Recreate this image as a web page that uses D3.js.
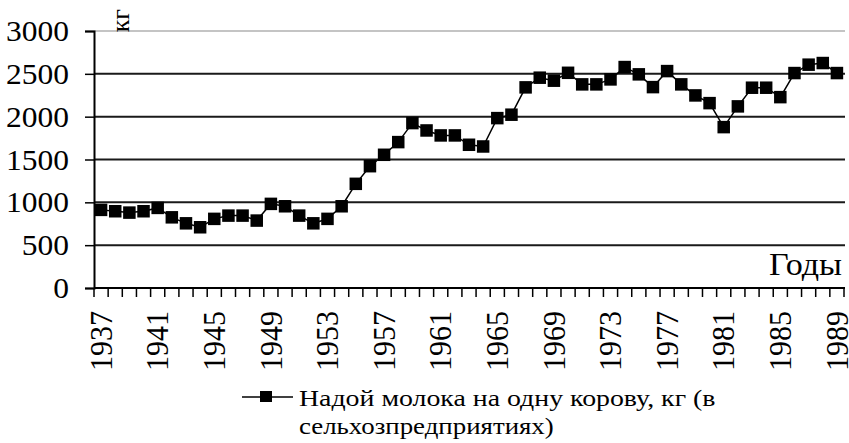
<!DOCTYPE html>
<html>
<head>
<meta charset="utf-8">
<script src="https://cdn.jsdelivr.net/npm/d3@7"></script>
<style>
  html, body { margin: 0; padding: 0; background: #fff; }
  svg { display: block; }
</style>
</head>
<body>
<script>
const years = [1937,1938,1939,1940,1941,1942,1943,1944,1945,1946,1947,1948,1949,1950,
  1951,1952,1953,1954,1955,1956,1957,1958,1959,1960,1961,1962,1963,1964,1965,1966,
  1967,1968,1969,1970,1971,1972,1973,1974,1975,1976,1977,1978,1979,1980,1981,1982,
  1983,1984,1985,1986,1987,1988,1989];
const milkYield = [912,896,880,896,935,825,755,709,807,845,845,787,982,954,
  845,755,807,954,1216,1422,1555,1703,1925,1839,1781,1781,1672,1652,1983,2023,
  2342,2455,2420,2512,2377,2377,2435,2579,2494,2345,2532,2377,2248,2158,1878,2120,
  2338,2338,2228,2509,2607,2626,2509];
const xTickLabels = [1937,1941,1945,1949,1953,1957,1961,1965,1969,1973,1977,1981,1985,1989];
const yTicks = [0,500,1000,1500,2000,2500,3000];
const seriesName1 = "Надой молока на одну корову, кг (в";
const seriesName2 = "сельхозпредприятиях)";
const yUnit = "кг";
const xTitle = "Годы";

const FONT = '"Liberation Serif"';
const W = 849, H = 443;
const svg = d3.select("body").append("svg").attr("width", W).attr("height", H);

function styleText(sel, size) {
  return sel.style("font-family", FONT).style("font-size", size + "px").attr("fill", "#000");
}

const x = d3.scaleBand().domain(years).range([94, 844]).padding(0);
const y = d3.scaleLinear().domain([0, 3000]).range([288, 31]);
const bw = x.bandwidth();

// gridlines
svg.append("g").selectAll("line").data(yTicks.filter(t => t > 0)).join("line")
  .attr("x1", 94).attr("x2", 845)
  .attr("y1", d => y(d)).attr("y2", d => y(d))
  .attr("stroke", d => d === 3000 ? "#c4c4c4" : "#1a1a1a")
  .attr("stroke-width", 2);

// y axis
const yAxis = svg.append("g").attr("transform", "translate(94,0)")
  .call(d3.axisLeft(y).tickValues(yTicks).tickFormat(d3.format("d")).tickSize(9).tickPadding(16));
yAxis.attr("font-family", null).attr("font-size", null);
yAxis.select(".domain").attr("stroke", "#000").attr("stroke-width", 2);
yAxis.selectAll(".tick line").attr("stroke", "#000").attr("stroke-width", 1.5);
styleText(yAxis.selectAll(".tick text"), 30)
  .attr("x", 0).attr("transform", "translate(-25,0) scale(1.05,1)");

// x axis
const xAxisG = svg.append("g");
xAxisG.append("line").attr("x1", 94).attr("x2", 845).attr("y1", 288).attr("y2", 288)
  .attr("stroke", "#000").attr("stroke-width", 2);
const boundaries = years.map(d => x(d)).concat([x.range()[1]]);
xAxisG.selectAll("line.tk").data(boundaries).join("line").attr("class", "tk")
  .attr("x1", d => d).attr("x2", d => d).attr("y1", 288).attr("y2", 297)
  .attr("stroke", "#000").attr("stroke-width", 1.5);
styleText(xAxisG.selectAll("text").data(xTickLabels).join("text")
  .attr("transform", d => `translate(${x(d) + bw / 2},311) scale(1.08,1) rotate(-90)`)
  .attr("text-anchor", "end").attr("dy", "0.33em")
  .text(d => d), 30);

// line + markers
const pts = years.map((d, i) => ({ year: d, v: milkYield[i] }));
svg.append("path").datum(pts)
  .attr("fill", "none").attr("stroke", "#000").attr("stroke-width", 1.5)
  .attr("d", d3.line().x(d => x(d.year) + bw / 2).y(d => y(d.v)));
svg.append("g").selectAll("rect").data(pts).join("rect")
  .attr("x", d => x(d.year) + bw / 2 - 6.25).attr("y", d => y(d.v) - 6.25)
  .attr("width", 12.5).attr("height", 12.5).attr("fill", "#000");

// unit label
styleText(svg.append("text").attr("transform", "translate(129,9) rotate(-90)")
  .attr("text-anchor", "end").text(yUnit), 26);

// x title
styleText(svg.append("text").attr("transform", "translate(842,275) scale(1.1,1)")
  .attr("text-anchor", "end").text(xTitle), 31);

// legend
const lg = svg.append("g");
lg.append("line").attr("x1", 242).attr("x2", 293).attr("y1", 397).attr("y2", 397)
  .attr("stroke", "#000").attr("stroke-width", 1.5);
lg.append("rect").attr("x", 260).attr("y", 391).attr("width", 12).attr("height", 11).attr("fill", "#000");
styleText(lg.append("text").attr("transform", "translate(299,406) scale(1.16,1)").text(seriesName1), 24);
styleText(lg.append("text").attr("transform", "translate(299,434) scale(1.12,1)").text(seriesName2), 24);
</script>
</body>
</html>
